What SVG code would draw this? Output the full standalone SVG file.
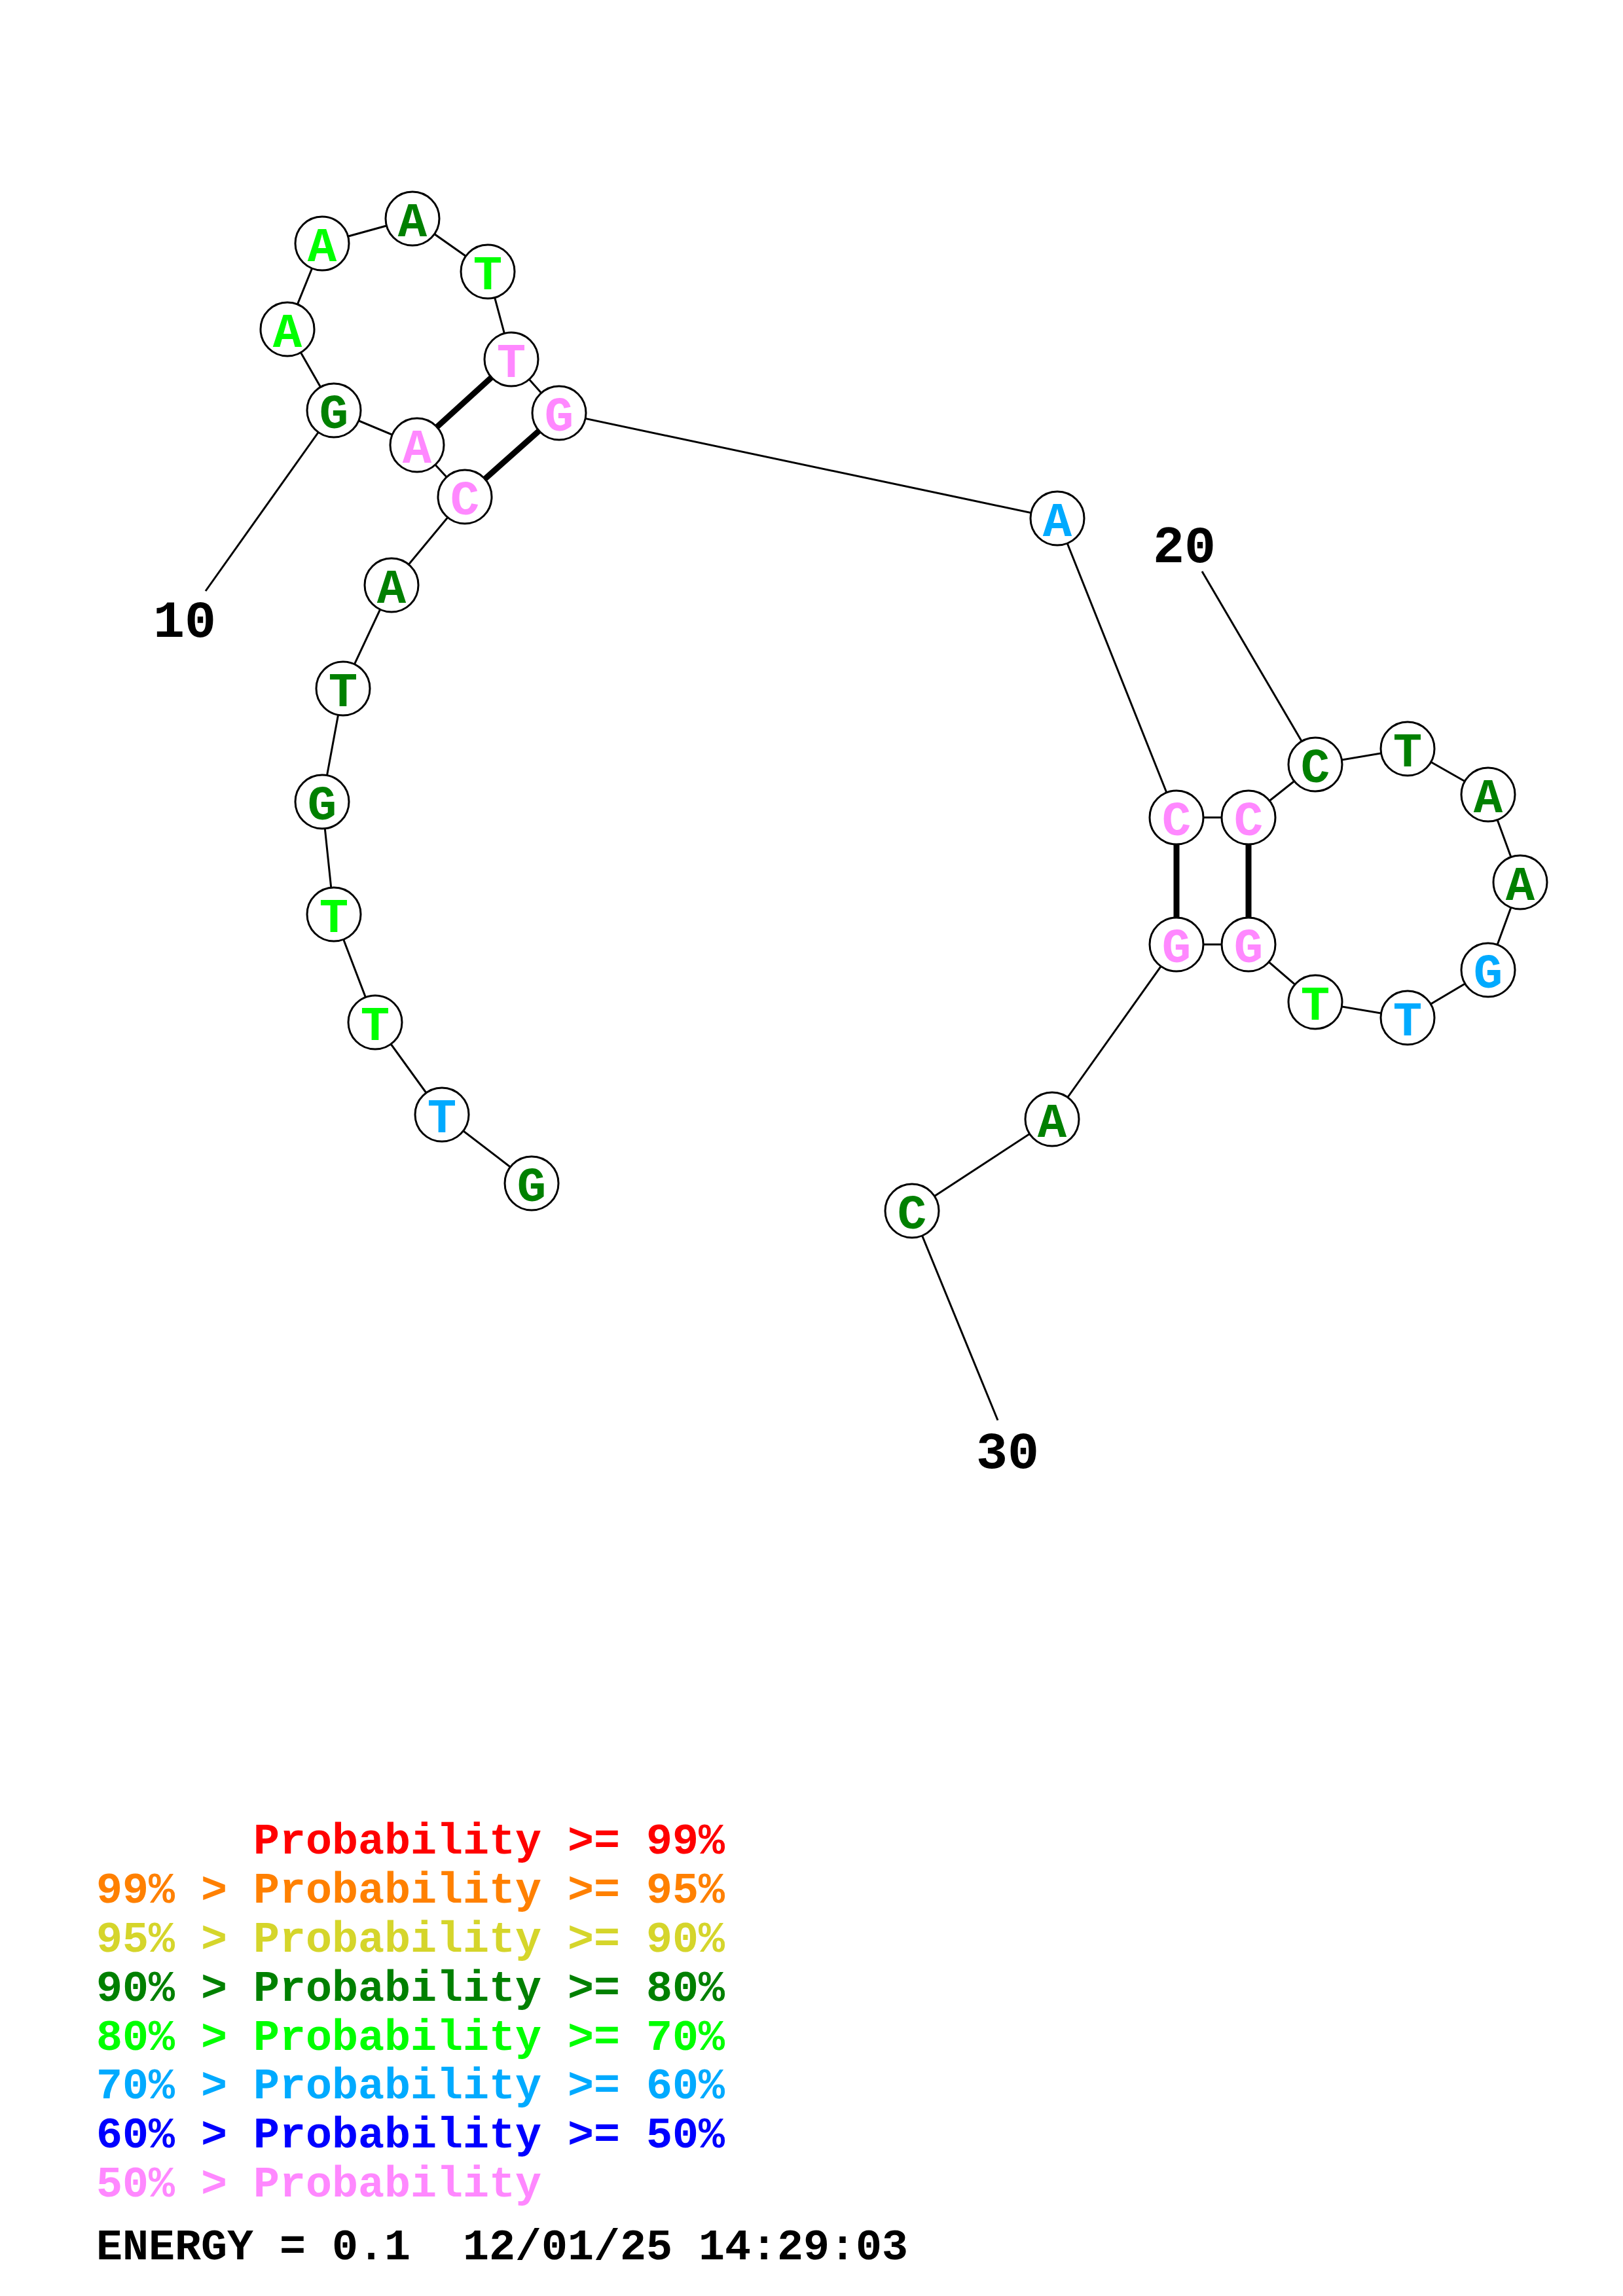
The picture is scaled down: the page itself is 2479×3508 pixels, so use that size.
<svg xmlns="http://www.w3.org/2000/svg" width="2479" height="3508" viewBox="0 0 2479 3508">
<style>
.bb{stroke:#000;stroke-width:3;fill:none}
.pr{stroke:#000;stroke-width:9;fill:none}
.nd circle{fill:#fff;stroke:#000;stroke-width:3}
.nd text{font-family:"Liberation Mono",monospace;font-weight:bold;font-size:74px;text-anchor:middle}
.num{font-family:"Liberation Mono",monospace;font-weight:bold;font-size:80px;text-anchor:middle;fill:#000}
.lg{font-family:"Liberation Mono",monospace;font-weight:bold;font-size:66.67px}
.dg{fill:#008000}.lm{fill:#00ff00}.lb{fill:#00aaff}.pk{fill:#ff88ff}
.rd{fill:#ff0000}.or{fill:#ff8000}.yl{fill:#d5d52b}.bl{fill:#0000ff}.bk{fill:#000}
</style>
<rect x="0" y="0" width="2479" height="3508" fill="#fff"/>
<g id="connectors">
<polyline class="bb" points="812,1808 675,1703 573,1562 510,1397 492,1225 524,1052 598,894 710,759 637,680 510,627 439,503 492,372 630,334 745,415 781,549 854,631 1615,792 1797,1249 1907,1249 2009,1168 2150,1144 2273,1214 2322,1348 2273,1482 2150,1555 2009,1531 1907,1443 1797,1443 1607,1710 1393,1850"/>
<line class="pr" x1="637" y1="680" x2="781" y2="549"/>
<line class="pr" x1="710" y1="759" x2="854" y2="631"/>
<line class="pr" x1="1797" y1="1249" x2="1797" y2="1443"/>
<line class="pr" x1="1907" y1="1249" x2="1907" y2="1443"/>
<line class="bb" x1="510" y1="627" x2="314" y2="903"/>
<line class="bb" x1="2009" y1="1168" x2="1836" y2="873"/>
<line class="bb" x1="1393" y1="1850" x2="1524" y2="2170"/>
</g>
<g id="n1" class="nd"><circle cx="812" cy="1808" r="41"/><text x="812" y="1835" class="dg">G</text></g>
<g id="n2" class="nd"><circle cx="675" cy="1703" r="41"/><text x="675" y="1730" class="lb">T</text></g>
<g id="n3" class="nd"><circle cx="573" cy="1562" r="41"/><text x="573" y="1589" class="lm">T</text></g>
<g id="n4" class="nd"><circle cx="510" cy="1397" r="41"/><text x="510" y="1424" class="lm">T</text></g>
<g id="n5" class="nd"><circle cx="492" cy="1225" r="41"/><text x="492" y="1252" class="dg">G</text></g>
<g id="n6" class="nd"><circle cx="524" cy="1052" r="41"/><text x="524" y="1079" class="dg">T</text></g>
<g id="n7" class="nd"><circle cx="598" cy="894" r="41"/><text x="598" y="921" class="dg">A</text></g>
<g id="n8" class="nd"><circle cx="710" cy="759" r="41"/><text x="710" y="786" class="pk">C</text></g>
<g id="n9" class="nd"><circle cx="637" cy="680" r="41"/><text x="637" y="707" class="pk">A</text></g>
<g id="n10" class="nd"><circle cx="510" cy="627" r="41"/><text x="510" y="654" class="dg">G</text></g>
<g id="n11" class="nd"><circle cx="439" cy="503" r="41"/><text x="439" y="530" class="lm">A</text></g>
<g id="n12" class="nd"><circle cx="492" cy="372" r="41"/><text x="492" y="399" class="lm">A</text></g>
<g id="n13" class="nd"><circle cx="630" cy="334" r="41"/><text x="630" y="361" class="dg">A</text></g>
<g id="n14" class="nd"><circle cx="745" cy="415" r="41"/><text x="745" y="442" class="lm">T</text></g>
<g id="n15" class="nd"><circle cx="781" cy="549" r="41"/><text x="781" y="576" class="pk">T</text></g>
<g id="n16" class="nd"><circle cx="854" cy="631" r="41"/><text x="854" y="658" class="pk">G</text></g>
<g id="n17" class="nd"><circle cx="1615" cy="792" r="41"/><text x="1615" y="819" class="lb">A</text></g>
<g id="n18" class="nd"><circle cx="1797" cy="1249" r="41"/><text x="1797" y="1276" class="pk">C</text></g>
<g id="n19" class="nd"><circle cx="1907" cy="1249" r="41"/><text x="1907" y="1276" class="pk">C</text></g>
<g id="n20" class="nd"><circle cx="2009" cy="1168" r="41"/><text x="2009" y="1195" class="dg">C</text></g>
<g id="n21" class="nd"><circle cx="2150" cy="1144" r="41"/><text x="2150" y="1171" class="dg">T</text></g>
<g id="n22" class="nd"><circle cx="2273" cy="1214" r="41"/><text x="2273" y="1241" class="dg">A</text></g>
<g id="n23" class="nd"><circle cx="2322" cy="1348" r="41"/><text x="2322" y="1375" class="dg">A</text></g>
<g id="n24" class="nd"><circle cx="2273" cy="1482" r="41"/><text x="2273" y="1509" class="lb">G</text></g>
<g id="n25" class="nd"><circle cx="2150" cy="1555" r="41"/><text x="2150" y="1582" class="lb">T</text></g>
<g id="n26" class="nd"><circle cx="2009" cy="1531" r="41"/><text x="2009" y="1558" class="lm">T</text></g>
<g id="n27" class="nd"><circle cx="1907" cy="1443" r="41"/><text x="1907" y="1470" class="pk">G</text></g>
<g id="n28" class="nd"><circle cx="1797" cy="1443" r="41"/><text x="1797" y="1470" class="pk">G</text></g>
<g id="n29" class="nd"><circle cx="1607" cy="1710" r="41"/><text x="1607" y="1737" class="dg">A</text></g>
<g id="n30" class="nd"><circle cx="1393" cy="1850" r="41"/><text x="1393" y="1877" class="dg">C</text></g>
<g id="labels">
<text class="num" x="282" y="973">10</text>
<text class="num" x="1809" y="859">20</text>
<text class="num" x="1539" y="2243">30</text>
</g>
<g id="legend" class="lg">
<text x="387" y="2832" class="rd">Probability &gt;= 99%</text>
<text x="147" y="2907" class="or">99% &gt; Probability &gt;= 95%</text>
<text x="147" y="2982" class="yl">95% &gt; Probability &gt;= 90%</text>
<text x="147" y="3057" class="dg">90% &gt; Probability &gt;= 80%</text>
<text x="147" y="3132" class="lm">80% &gt; Probability &gt;= 70%</text>
<text x="147" y="3206" class="lb">70% &gt; Probability &gt;= 60%</text>
<text x="147" y="3281" class="bl">60% &gt; Probability &gt;= 50%</text>
<text x="147" y="3356" class="pk">50% &gt; Probability</text>
<text x="147" y="3452" class="bk" xml:space="preserve">ENERGY = 0.1  12/01/25 14:29:03</text>
</g>
</svg>
